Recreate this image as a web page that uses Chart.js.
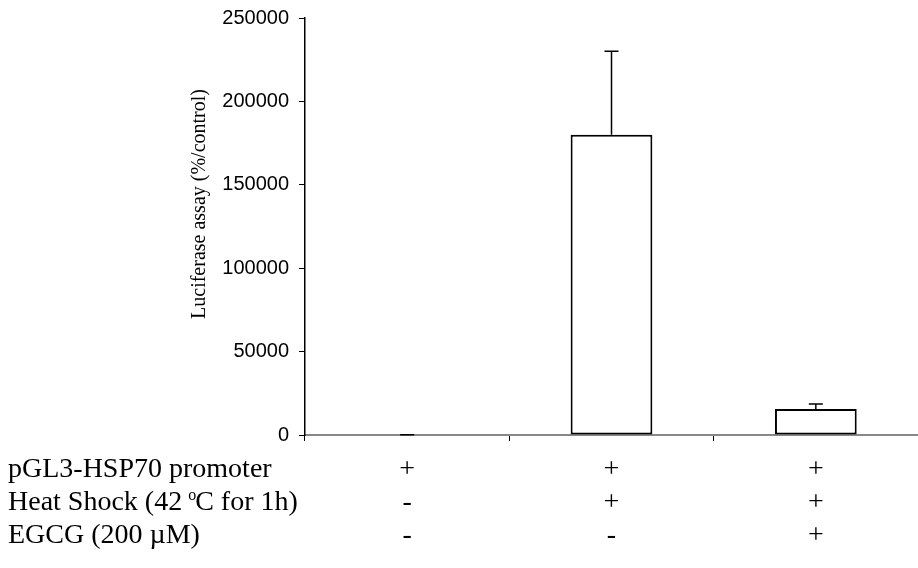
<!DOCTYPE html>
<html lang="en">
<head>
  <meta charset="UTF-8">
  <title>Luciferase assay</title>
  <script src="https://cdn.jsdelivr.net/npm/chart.js"></script>
  <style>
    html, body { margin: 0; padding: 0; background: #fff; }
    #wrap { width: 918px; height: 568px; position: relative; }
  </style>
</head>
<body>
  <div id="wrap"><canvas id="chart"></canvas></div>
  <script>
    // values
    const categories = ['Control', 'Heat shock', 'Heat shock + EGCG'];
    const means = [60, 180000, 15600];
    const errors = [60, 50000, 3000];
    const yMin = 0, yMax = 250000, yStep = 50000;
    const yTitle = 'Luciferase assay (%/control)';
    // condition table under the axis; {sup} parts are raised
    const rowLabels = [
      ['pGL3-HSP70 promoter'],
      ['Heat Shock (42 ', { sup: 'o' }, 'C for 1h)'],
      ['EGCG (200 \u00b5M)']
    ];
    const rowSigns = [
      ['+', '+', '+'],
      ['-', '+', '+'],
      ['-', '-', '+']
    ];

    const serif = '"Liberation Serif", "Times New Roman", serif';

    const errorBars = {
      id: 'errorBars',
      afterDatasetsDraw(chart) {
        const ctx = chart.ctx;
        const y = chart.scales.y;
        const meta = chart.getDatasetMeta(0);
        ctx.save();
        ctx.strokeStyle = '#000';
        ctx.lineWidth = 1.5;
        meta.data.forEach((bar, i) => {
          const top = y.getPixelForValue(means[i] + errors[i]);
          ctx.beginPath();
          ctx.moveTo(bar.x, bar.y);
          ctx.lineTo(bar.x, top);
          ctx.moveTo(bar.x - 7, top);
          ctx.lineTo(bar.x + 7, top);
          ctx.stroke();
        });
        ctx.restore();
      },
      afterDraw(chart) {
        const ctx = chart.ctx;
        const x = chart.scales.x;
        ctx.save();
        ctx.fillStyle = '#000';
        // rotated axis title
        ctx.translate(200, 204);
        ctx.rotate(-Math.PI / 2);
        ctx.font = '20px ' + serif;
        ctx.textAlign = 'center';
        ctx.textBaseline = 'middle';
        ctx.fillText(yTitle, 0, 0);
        ctx.restore();

        ctx.save();
        ctx.fillStyle = '#000';
        ctx.textBaseline = 'alphabetic';
        const base = 477, gap = 33;
        rowLabels.forEach((parts, r) => {
          const by = base + r * gap;
          let px = 8;
          ctx.textAlign = 'left';
          parts.forEach(p => {
            if (typeof p === 'string') {
              ctx.font = '28px ' + serif;
              ctx.fillText(p, px, by);
              px += ctx.measureText(p).width;
            } else {
              ctx.font = '16px ' + serif;
              ctx.fillText(p.sup, px - 1, by - 10);
              px += ctx.measureText(p.sup).width - 2;
            }
          });
          ctx.font = '28px ' + serif;
          ctx.textAlign = 'center';
          rowSigns[r].forEach((s, i) => {
            ctx.fillText(s, x.getPixelForValue(i), by);
          });
        });
        ctx.restore();
      }
    };

    new Chart(document.getElementById('chart'), {
      type: 'bar',
      data: {
        labels: categories,
        datasets: [{
          data: means,
          // the near-zero control bar shows no box in the figure
          backgroundColor: c => (c.raw < 1000 ? 'rgba(0,0,0,0)' : '#fff'),
          borderColor: '#000',
          borderWidth: c => (c.raw < 1000 ? 0 : 2),
          borderSkipped: false,
          categoryPercentage: 1,
          barPercentage: 0.4
        }]
      },
      options: {
        responsive: true,
        maintainAspectRatio: false,
        animation: false,
        layout: { padding: { top: 18, left: 0, right: 0, bottom: 0 } },
        plugins: { legend: { display: false }, tooltip: { enabled: false } },
        scales: {
          x: {
            afterFit(s) { s.height = 133; s.paddingLeft = 0; s.paddingRight = 0; },
            grid: { display: true, drawOnChartArea: false, offset: true, tickLength: 6, color: '#000', lineWidth: 1 },
            border: { color: '#888', width: 2 },
            ticks: { display: false }
          },
          y: {
            min: yMin,
            max: yMax,
            afterFit(s) { s.width = 305; s.paddingTop = 0; s.paddingBottom = 0; },
            grid: { drawOnChartArea: false, tickLength: 6, color: '#000', lineWidth: 1 },
            border: { color: '#000', width: 1.5 },
            ticks: {
              stepSize: yStep,
              color: '#000',
              padding: 10,
              callback: v => String(v),
              font: { family: '"Liberation Sans", Arial, sans-serif', size: 20 }
            }
          }
        }
      },
      plugins: [errorBars]
    });
  </script>
</body>
</html>
